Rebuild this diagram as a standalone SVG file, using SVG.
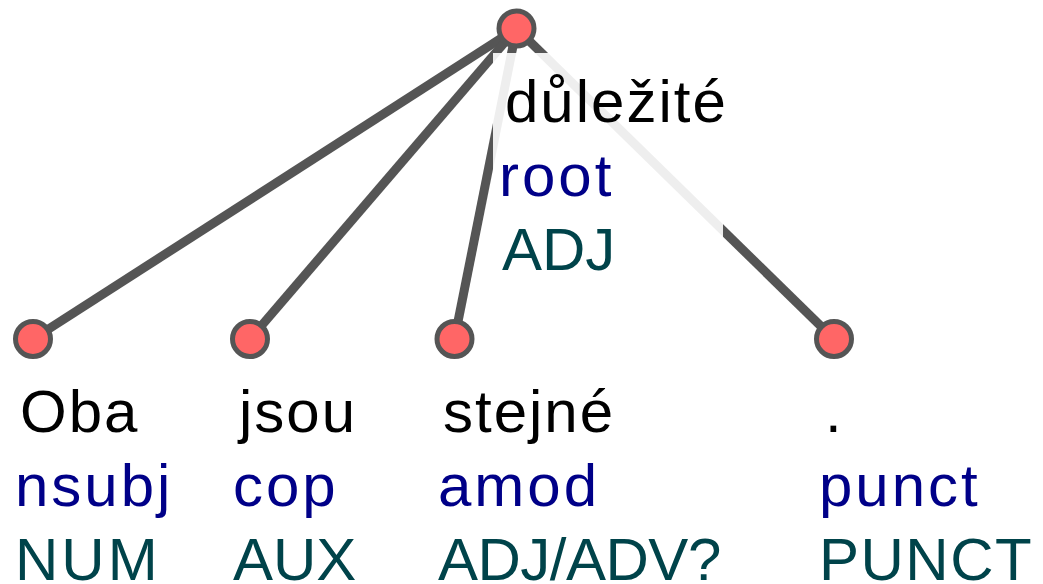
<svg xmlns="http://www.w3.org/2000/svg" width="1043" height="584" viewBox="0 0 1043 584">
  <style>
    .edge { stroke: #555555; stroke-width: 9; fill: none; }
    .tok { fill: #ff6666; stroke: #555555; stroke-width: 5; }
    .halo { fill: #ffffff; fill-opacity: 0.9; }
    text { font-family: "Liberation Sans", Arial, sans-serif; font-size: 60px; }
    .form { fill: #000000; letter-spacing: 2px; }
    .rel { fill: #000088; letter-spacing: 3px; }
    .pos { fill: #00434a; }
  </style>
  <rect width="1043" height="584" fill="#ffffff"/>

  <!-- dependency arcs: head "důležité" to each dependent -->
  <g id="edges">
    <line class="edge" x1="516.5" y1="28.5" x2="33" y2="339"/>
    <line class="edge" x1="516.5" y1="28.5" x2="250" y2="339"/>
    <line class="edge" x1="516.5" y1="28.5" x2="454.5" y2="339"/>
    <line class="edge" x1="516.5" y1="28.5" x2="834" y2="339"/>
  </g>

  <!-- root token; its label sits on a translucent white backing that fades the arcs behind it -->
  <g id="node-duleZite">
    <rect class="halo" x="493" y="53" width="230" height="230"/>
    <circle class="tok" cx="516.5" cy="28.5" r="17.5"/>
    <text class="form" x="505" y="122" letter-spacing="1">důležité</text>
    <text class="rel" x="499" y="196">root</text>
    <text class="pos" x="502" y="270">ADJ</text>
  </g>

  <g id="node-Oba">
    <circle class="tok" cx="33" cy="339" r="17.5"/>
    <text class="form" x="20" y="432">Oba</text>
    <text class="rel" x="15" y="506">nsubj</text>
    <text class="pos" x="15" y="580" letter-spacing="3">NUM</text>
  </g>

  <g id="node-jsou">
    <circle class="tok" cx="250" cy="339" r="17.5"/>
    <text class="form" x="239" y="432" letter-spacing="3.5">jsou</text>
    <text class="rel" x="233" y="506">cop</text>
    <text class="pos" x="233" y="580">AUX</text>
  </g>

  <g id="node-stejne">
    <circle class="tok" cx="454.5" cy="339" r="17.5"/>
    <text class="form" x="443" y="432" letter-spacing="2.6">stejné</text>
    <text class="rel" x="438" y="506" letter-spacing="4.5">amod</text>
    <text class="pos" x="438" y="580" letter-spacing="-0.5">ADJ/ADV?</text>
  </g>

  <g id="node-period">
    <circle class="tok" cx="834" cy="339" r="17.5"/>
    <text class="form" x="825" y="432">.</text>
    <text class="rel" x="819" y="506">punct</text>
    <text class="pos" x="819" y="580" letter-spacing="1.5">PUNCT</text>
  </g>
</svg>
